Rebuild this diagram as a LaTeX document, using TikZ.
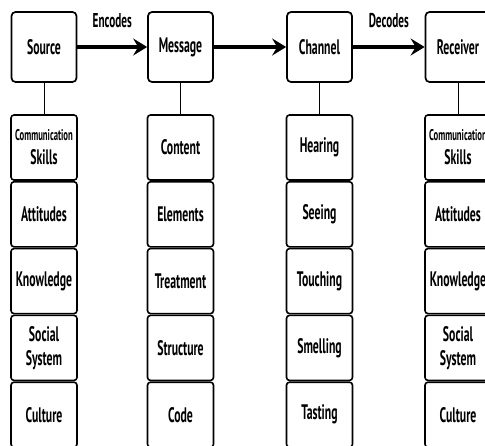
\documentclass[tikz,border=0pt]{standalone}
\usepackage{fontspec}
\setmainfont{PT Sans}[FakeStretch=0.56]
\usetikzlibrary{arrows.meta}
\begin{document}
\begin{tikzpicture}[x=1pt,y=-1pt,
  headbox/.style={draw,line width=1.7pt,rounded corners=4pt,minimum width=65pt,minimum height=70pt,
    inner sep=0pt,font=\bfseries\fontsize{21}{22}\selectfont},
  cellbox/.style={draw,line width=1.6pt,rounded corners=3pt,minimum width=66pt,minimum height=65pt,
    inner sep=0pt,align=center,font=\bfseries\fontsize{21}{24}\selectfont},
  flow/.style={line width=3.5pt,-{Stealth[length=14pt,width=17pt,inset=5pt]}},
  link/.style={line width=0.8pt},
  lbl/.style={font=\bfseries\fontsize{20}{21}\selectfont,inner sep=0pt}]
\useasboundingbox (0,0) rectangle (485,445);
\clip (0,0) rectangle (485,445);

% header boxes
\node[headbox] (src) at (44,47) {Source};
\node[headbox] (msg) at (180.5,47) {Message};
\node[headbox] (chn) at (319.5,47) {Channel};
\node[headbox] (rcv) at (458,47) {Receiver};

% main flow
\draw[flow] (src.east) -- (msg.west) node[lbl,midway,above=17pt] (enc) {Encodes};
\draw[flow] (msg.east) -- (chn.west);
\draw[flow] (chn.east) -- (rcv.west) node[lbl,midway,above=17pt] (dec) {Decodes};

% Source column
\node[cellbox] (s1) at (44,147.5) {{\fontsize{15.5}{22}\selectfont Communication}\\Skills};
\node[cellbox] (s2) at (44,214.3) {Attitudes};
\node[cellbox] (s3) at (44,281.1) {Knowledge};
\node[cellbox] (s4) at (44,347.9) {Social\\System};
\node[cellbox] (s5) at (44,414.7) {Culture};

% Message column
\node[cellbox] (m1) at (180.5,147.5) {Content};
\node[cellbox] (m2) at (180.5,214.3) {Elements};
\node[cellbox] (m3) at (180.5,281.1) {Treatment};
\node[cellbox] (m4) at (180.5,347.9) {Structure};
\node[cellbox] (m5) at (180.5,414.7) {Code};

% Channel column
\node[cellbox] (c1) at (319.5,147.5) {Hearing};
\node[cellbox] (c2) at (319.5,214.3) {Seeing};
\node[cellbox] (c3) at (319.5,281.1) {Touching};
\node[cellbox] (c4) at (319.5,347.9) {Smelling};
\node[cellbox] (c5) at (319.5,414.7) {Tasting};

% Receiver column
\node[cellbox] (r1) at (458,147.5) {{\fontsize{15.5}{22}\selectfont Communication}\\Skills};
\node[cellbox] (r2) at (458,214.3) {Attitudes};
\node[cellbox] (r3) at (458,281.1) {Knowledge};
\node[cellbox] (r4) at (458,347.9) {Social\\System};
\node[cellbox] (r5) at (458,414.7) {Culture};

% links from headers to columns
\draw[link] (src.south) -- (s1.north);
\draw[link] (msg.south) -- (m1.north);
\draw[link] (chn.south) -- (c1.north);
\draw[link] (rcv.south) -- (r1.north);
\end{tikzpicture}
\end{document}
